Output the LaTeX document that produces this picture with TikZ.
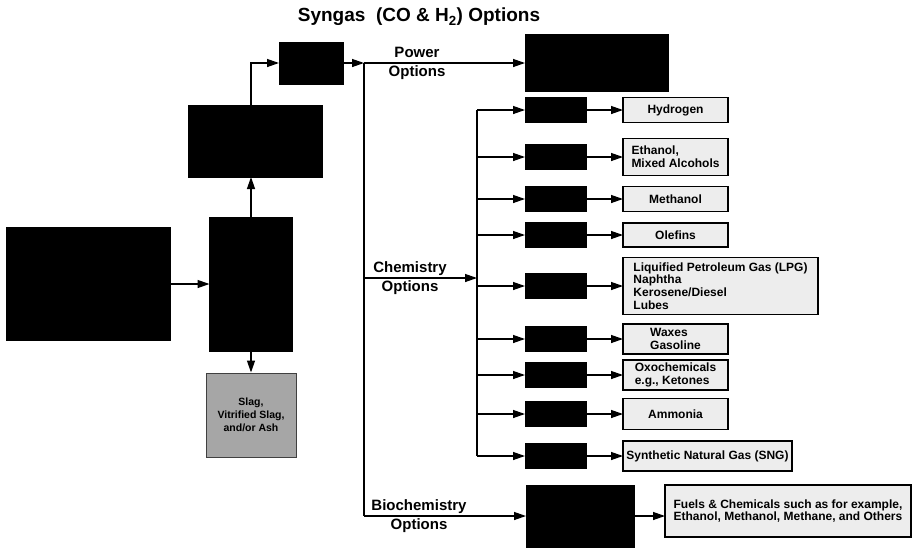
\documentclass[tikz,border=0pt]{standalone}
\usepackage{fontspec}
\setmainfont{Liberation Sans}
\usetikzlibrary{arrows.meta}

\tikzset{
  flow/.style={line width=1.3pt,-{Triangle[length=12pt,width=8pt]}},
  blackbox/.style={draw=black,fill=black,inner sep=0pt,outer sep=0pt},
  prodbox/.style={draw=black,line width=1.2pt,fill=black!7,inner sep=0pt,outer sep=0pt,
    align=left,font=\fontsize{12}{12.8}\selectfont\bfseries},
  optlabel/.style={align=center,font=\fontsize{15}{19}\selectfont\bfseries}
}

\begin{document}
\begin{tikzpicture}[x=1pt,y=1pt]

\useasboundingbox (0,0) rectangle (913,-547);

%=================================================
% TITLE
%=================================================

\node (title) [font=\fontsize{19}{21}\selectfont\bfseries]
at (419,-17)
{Syngas\ \ (CO \& H\textsubscript{2}) Options};

%=================================================
% LEFT COLUMN
%=================================================

% feed and gasifier

\node (feed) [blackbox,minimum width=164,minimum height=113]
at (88,-284) {};

\node (gsf) [blackbox,minimum width=83,minimum height=134]
at (251,-284) {};

\draw[flow] (feed) -- (gsf);

% slag

\node (slag) [draw=black!75,line width=1pt,fill=black!35,
  minimum width=90,minimum height=84,align=center,
  font=\fontsize{10.5}{13}\selectfont\bfseries]
at (251,-415)
{Slag,\\Vitrified Slag,\\and/or Ash};

\draw[flow] (gsf.south) -- (slag.north);

% cleanup

\node (cln) [blackbox,minimum width=134,minimum height=72]
at (255,-141) {};

\draw[flow] (gsf.north) -- (gsf.north |- cln.south);

% small box

\node (sbox) [blackbox,minimum width=64,minimum height=42]
at (311,-63) {};

\draw[flow] (gsf.north |- cln.north) |- (sbox.west);

%=================================================
% POWER OPTIONS
%=================================================

\coordinate (split) at (364,-63);

\node (power) [blackbox,minimum width=143,minimum height=57]
at (596.5,-63) {};

\draw[flow] (sbox.east) -- (split);
\draw[flow] (split) -- (power.west);

\node (powlbl) [optlabel]
at (417,-63)
{Power\\Options};

%=================================================
% CHEMISTRY OPTIONS
%=================================================

\coordinate (chemtap) at (364,-278);
\coordinate (bus) at (477,-278);

\draw[flow] (chemtap) -- (bus);

\node (chemlbl) [optlabel]
at (410,-278)
{Chemistry\\Options};

\foreach \yy/\hh/\ww/\txt [count=\i] in {
  110/25/105/{Hydrogen},
  157/37/105/{Ethanol,\\Mixed Alcohols},
  199/25/105/{Methanol},
  235/24/105/{Olefins},
  286/57/195/{Liquified Petroleum Gas (LPG)\\Naphtha\\Kerosene/Diesel\\Lubes},
  339/30/105/{Waxes\\Gasoline},
  375/30/105/{Oxochemicals\\e.g., Ketones},
  414/31/105/{Ammonia},
  456/30/169/{Synthetic Natural Gas (SNG)}}
{
\node (cat\i) [blackbox,minimum width=61,minimum height=25]
at (555.5,-\yy) {};
\node (prd\i) [prodbox,minimum width=\ww,minimum height=\hh,anchor=west]
at (623,-\yy) {\txt};
\draw[flow] (bus |- cat\i) -- (cat\i.west);
\draw[flow] (cat\i.east) -- (prd\i.west);
}

\draw[line width=1.3pt] (bus |- cat1) -- (bus |- cat9);

%=================================================
% BIOCHEMISTRY OPTIONS
%=================================================

\coordinate (bend) at (364,-516);

\node (bio) [blackbox,minimum width=108,minimum height=62]
at (580,-516) {};

\node (fuels) [prodbox,minimum width=246,minimum height=52]
at (788,-511)
{Fuels \& Chemicals such as for example,\\Ethanol, Methanol, Methane, and Others};

\draw[line width=1.3pt] (split) -- (bend);
\draw[flow] (bend) -- (bio.west);
\draw[flow] (bio.east) -- (bio.east -| fuels.west);

\node (biolbl) [optlabel]
at (419,-516)
{Biochemistry\\Options};

\end{tikzpicture}
\end{document}
